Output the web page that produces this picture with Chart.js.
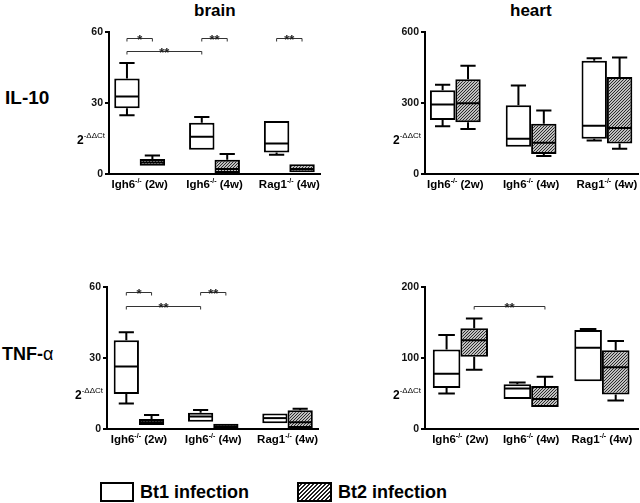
<!DOCTYPE html>
<html>
<head>
<meta charset="utf-8">
<script src="https://cdn.jsdelivr.net/npm/chart.js@4.4.1/dist/chart.umd.min.js"></script>
<style>
  body { margin: 0; width: 640px; height: 503px; background: #fff; position: relative; overflow: hidden;
         font-family: "Liberation Sans", Arial, sans-serif; }
  .box { position: absolute; }
  .lbl { position: absolute; font-weight: bold; color: #000; white-space: nowrap; line-height: 1; }
  .key { position: absolute; box-sizing: border-box; border: 2px solid #000; background: #fff; }
  .hatch { background: repeating-linear-gradient(135deg, #fff 0 1.4px, #222 1.4px 2.8px); }
</style>
</head>
<body>

<div class="lbl" style="left:194px;top:2px;font-size:17px;">brain</div>
<div class="lbl" style="left:510px;top:2px;font-size:17px;">heart</div>
<div class="lbl" style="left:5px;top:88px;font-size:19px;">IL-10</div>
<div class="lbl" style="left:2px;top:345px;font-size:18px;">TNF-<span style="font-weight:normal">α</span></div>

<div class="box" style="left:60px;top:20px;"><canvas id="c1" width="262" height="180"></canvas></div>
<div class="box" style="left:377px;top:20px;"><canvas id="c2" width="263" height="180"></canvas></div>
<div class="box" style="left:58px;top:275px;"><canvas id="c3" width="262" height="180"></canvas></div>
<div class="box" style="left:377px;top:275px;"><canvas id="c4" width="263" height="180"></canvas></div>

<div class="key" style="left:100px;top:482px;width:34px;height:20px;"></div>
<div class="lbl" style="left:140px;top:483px;font-size:18px;">Bt1 infection</div>
<div class="key hatch" style="left:297px;top:482px;width:35px;height:20px;"></div>
<div class="lbl" style="left:338px;top:483px;font-size:18px;">Bt2 infection</div>

<script>
const categories = ["Igh6-/- (2w)", "Igh6-/- (4w)", "Rag1-/- (4w)"];
const seriesNames = ["Bt1 infection", "Bt2 infection"];
const yTitle = ["2", "-ΔΔCt"];

// box stats per category: [min, q1, median, q3, max]
const brainIL10Bt1 = [[24.8, 27.8, 32.7, 40.4, 46.9], [10.2, 10.2, 15.7, 21.7, 24.1], [8.1, 9.1, 12.9, 22.4, 22.4]];
const brainIL10Bt2 = [[3.5, 3.5, 4.9, 6.3, 7.8], [0.3, 0.4, 2.1, 6.0, 8.4], [0.7, 0.7, 2.1, 4.1, 4.5]];
const heartIL10Bt1 = [[202, 228, 294, 354, 377], [111, 115, 149, 291, 374], [142, 149, 204, 478, 489]];
const heartIL10Bt2 = [[190, 219, 299, 400, 457], [76, 84, 132, 212, 268], [107, 129, 194, 410, 492]];
const brainTNFBt1 = [[10.8, 14.8, 26.4, 37.5, 40.9], [3.1, 3.1, 5.3, 6.9, 8.0], [2.1, 2.4, 4.6, 6.6, 6.8]];
const brainTNFBt2 = [[1.7, 1.7, 2.9, 4.2, 5.9], [0.2, 0.2, 1.1, 2.2, 2.4], [0.4, 0.4, 2.8, 7.9, 8.6]];
const heartTNFBt1 = [[50, 57.6, 77.7, 112, 132.5], [41, 42.2, 57.1, 63.2, 65.6], [66.5, 67.4, 114.3, 139.5, 141]];
const heartTNFBt2 = [[83.4, 101.6, 125, 142, 155.5], [30.9, 30.9, 42.2, 60.4, 73.5], [40.3, 48.7, 87.1, 111, 124]];

// y axis maxima and tick steps
const brainIL10Axis = [60, 30];
const heartIL10Axis = [600, 300];
const brainTNFAxis = [60, 30];
const heartTNFAxis = [200, 100];

// significance brackets: [fromCategory, fromSeries, toCategory, toSeries, y value, mark]
const brainIL10Sig = [[0, 0, 0, 1, 57.5, "*"], [1, 0, 1, 1, 57.5, "**"], [2, 0, 2, 1, 57.5, "**"], [0, 0, 1, 0, 52, "**"]];
const heartIL10Sig = [];
const brainTNFSig = [[0, 0, 0, 1, 57.8, "*"], [1, 0, 1, 1, 57.8, "**"], [0, 0, 1, 0, 52.1, "**"]];
const heartTNFSig = [[0, 1, 1, 1, 173, "**"]];

const FONT = "'Liberation Sans', Arial, sans-serif";

const makeHatch = () => {
    const c = document.createElement("canvas");
    c.width = 3; c.height = 3;
    const g = c.getContext("2d");
    g.fillStyle = "#fff";
    g.fillRect(0, 0, 3, 3);
    g.strokeStyle = "#222";
    g.lineWidth = 1.1;
    g.beginPath();
    g.moveTo(-1, 4); g.lineTo(4, -1);
    g.moveTo(-1, 1); g.lineTo(1, -1);
    g.moveTo(2, 4); g.lineTo(4, 2);
    g.stroke();
    return g.createPattern(c, "repeat");
};

const boxPlugin = {
    id: "boxes",
    afterDatasetsDraw(chart) {
        const ctx = chart.ctx;
        const y = chart.scales.y;
        const stats = chart.options.plugins.boxes.stats;
        ctx.save();
        ctx.strokeStyle = "#000";
        ctx.lineWidth = 2;
        stats.forEach((series, d) => {
            const meta = chart.getDatasetMeta(d);
            series.forEach((s, i) => {
                const el = meta.data[i];
                const half = el.width / 2;
                const cap = el.width * 0.3;
                const [mn, q1, md, q3, mx] = s.map(v => y.getPixelForValue(v));
                ctx.beginPath();
                ctx.moveTo(el.x - half + 1, md); ctx.lineTo(el.x + half - 1, md);
                if (mx < q3 - 1) {
                    ctx.moveTo(el.x, q3); ctx.lineTo(el.x, mx);
                    ctx.moveTo(el.x - cap, mx); ctx.lineTo(el.x + cap, mx);
                }
                if (mn > q1 + 1) {
                    ctx.moveTo(el.x, q1); ctx.lineTo(el.x, mn);
                    ctx.moveTo(el.x - cap, mn); ctx.lineTo(el.x + cap, mn);
                }
                ctx.stroke();
            });
        });
        ctx.restore();
    },
    afterDraw(chart) {
        const ctx = chart.ctx;
        const area = chart.chartArea;
        const x = chart.scales.x;
        const y = chart.scales.y;
        const opts = chart.options.plugins.boxes;
        ctx.save();
        // significance brackets
        ctx.strokeStyle = "#333";
        ctx.fillStyle = "#222";
        ctx.lineWidth = 1;
        opts.sig.forEach(([c0, s0, c1, s1, v, mark]) => {
            const x0 = chart.getDatasetMeta(s0).data[c0].x;
            const x1 = chart.getDatasetMeta(s1).data[c1].x;
            const py = Math.round(y.getPixelForValue(v)) + 0.5;
            ctx.beginPath();
            ctx.moveTo(x0, py + 3); ctx.lineTo(x0, py); ctx.lineTo(x1, py); ctx.lineTo(x1, py + 3);
            ctx.stroke();
            ctx.font = "bold 13px " + FONT;
            ctx.textAlign = "center";
            ctx.textBaseline = "alphabetic";
            ctx.fillText(mark, (x0 + x1) / 2, py + 5);
        });
        // category labels with superscript genotype
        ctx.fillStyle = "#000";
        ctx.textBaseline = "alphabetic";
        categories.forEach((lab, i) => {
            const m = lab.match(/^(\S+?)(-\/-)(.*)$/);
            const parts = [[m[1], "bold 11.5px " + FONT, 0], [m[2], "bold 7px " + FONT, -5], [m[3], "bold 11.5px " + FONT, 0]];
            let w = 0;
            parts.forEach(p => { ctx.font = p[1]; w += ctx.measureText(p[0]).width; });
            let px = x.getPixelForValue(i) - w / 2;
            const base = area.bottom + 14;
            ctx.textAlign = "left";
            parts.forEach(p => {
                ctx.font = p[1];
                ctx.fillText(p[0], px, base + p[2]);
                px += ctx.measureText(p[0]).width;
            });
        });
        // y axis title 2^-ddCt
        ctx.font = "bold 12px " + FONT;
        const w1 = ctx.measureText(yTitle[0]).width;
        ctx.font = "8px " + FONT;
        const w2 = ctx.measureText(yTitle[1]).width;
        const tx = area.left - 4 - w1 - w2;
        const ty = area.bottom - 30;
        ctx.font = "bold 12px " + FONT;
        ctx.fillText(yTitle[0], tx, ty);
        ctx.font = "8px " + FONT;
        ctx.fillText(yTitle[1], tx + w1, ty - 6);
        ctx.restore();
    }
};

const createPanel = (id, bt1, bt2, axis, sig, xr, catPct, yWidth) => {
    const ctx = document.getElementById(id).getContext("2d");
    new Chart(ctx, {
        type: "bar",
        data: {
            datasets: [
                {
                    label: seriesNames[0],
                    data: bt1.map((s, i) => ({ x: i, y: [s[1], s[3]] })),
                    backgroundColor: "#fff"
                },
                {
                    label: seriesNames[1],
                    data: bt2.map((s, i) => ({ x: i, y: [s[1], s[3]] })),
                    backgroundColor: makeHatch()
                }
            ]
        },
        options: {
            responsive: false,
            animation: false,
            datasets: {
                bar: {
                    borderColor: "#000",
                    borderWidth: 2,
                    borderSkipped: false,
                    barPercentage: 1,
                    categoryPercentage: catPct
                }
            },
            layout: { padding: { top: 12, right: 2 } },
            plugins: {
                legend: { display: false },
                tooltip: { enabled: false },
                boxes: { stats: [bt1, bt2], sig: sig }
            },
            scales: {
                x: {
                    type: "linear",
                    min: xr[0],
                    max: xr[1],
                    offset: false,
                    ticks: { display: false, includeBounds: false },
                    grid: { display: false },
                    border: { display: true, color: "#000", width: 2 },
                    afterFit: s => { s.height = 26; }
                },
                y: {
                    min: 0,
                    max: axis[0],
                    ticks: { stepSize: axis[1], color: "#111", padding: 2, font: { size: 10.5, weight: "bold", family: FONT } },
                    grid: { drawOnChartArea: false, tickLength: 4, color: "#000", lineWidth: 2 },
                    border: { display: true, color: "#000", width: 2 },
                    afterFit: s => { s.width = yWidth; }
                }
            }
        },
        plugins: [boxPlugin]
    });
};

createPanel("c1", brainIL10Bt1, brainIL10Bt2, brainIL10Axis, brainIL10Sig, [-0.41, 2.41], 0.68, 49);
createPanel("c2", heartIL10Bt1, heartIL10Bt2, heartIL10Axis, heartIL10Sig, [-0.40, 2.41], 0.67, 48);
createPanel("c3", brainTNFBt1, brainTNFBt2, brainTNFAxis, brainTNFSig, [-0.43, 2.41], 0.68, 49);
createPanel("c4", heartTNFBt1, heartTNFBt2, heartTNFAxis, heartTNFSig, [-0.50, 2.51], 0.78, 48);
</script>
</body>
</html>
